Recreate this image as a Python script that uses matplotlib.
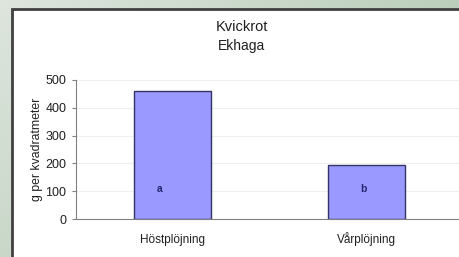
import numpy as np
import matplotlib.pyplot as plt
from matplotlib.patches import Rectangle

plt.rcParams['font.family'] = ['Liberation Sans', 'DejaVu Sans']

# data
categories = ['Höstplöjning', 'Vårplöjning']
values = [460, 195]
letters = ['a', 'b']
letter_y = 108
letter_dx = [-0.07, -0.015]
yticks = [0, 100, 200, 300, 400, 500]

W, H = 460, 257
fig = plt.figure(figsize=(W / 100, H / 100), dpi=100)

# greenish gradient background
bg = fig.add_axes([0, 0, 1, 1])
xx, yy = np.meshgrid(np.linspace(0, 1, 200), np.linspace(0, 1, 120))
c0 = np.array([0.87, 0.90, 0.87])
c1 = np.array([0.69, 0.78, 0.69])
t = np.clip(0.75 * xx + 0.45 * yy, 0, 1)[..., None]
bg.imshow(c0 * (1 - t) + c1 * t, aspect='auto', extent=[0, 1, 0, 1], origin='upper')
# white panel with dark border
bg.add_patch(Rectangle((12 / W, -0.05), 1.1, 1 - 9 / H + 0.05,
                       facecolor='white', edgecolor='#404040', linewidth=2))
bg.set_xlim(0, 1)
bg.set_ylim(0, 1)
bg.axis('off')

ax = fig.add_axes([76 / W, (H - 219) / H, 387 / W, 139 / H])
x = np.arange(len(categories))
ax.bar(x, values, width=0.4, color='#9999ff', edgecolor='#333366', linewidth=1, zorder=3)
for xi, dx, lab in zip(x, letter_dx, letters):
    ax.text(xi + dx, letter_y, lab, color='#262673', fontsize=7.5, fontweight='bold',
            ha='center', va='center', zorder=4)

ax.set_xlim(-0.5, 1.5)
ax.set_ylim(0, 500)
ax.set_yticks(yticks)
ax.set_xticks(x)
ax.set_xticklabels(categories, fontsize=8.5, color='#202020')
for lbl in ax.get_xticklabels():
    lbl.set_verticalalignment('baseline')
ax.tick_params(axis='y', labelsize=9, length=3, width=0.8, pad=4,
               color='#808080', labelcolor='#202020')
ax.tick_params(axis='x', length=0, pad=17)
ax.grid(axis='y', color='#f0f0f0', linewidth=0.8, zorder=0)
for s in ['top', 'right']:
    ax.spines[s].set_visible(False)
ax.spines['left'].set_color('#808080')
ax.spines['bottom'].set_color('#808080')
ax.set_facecolor('none')
ax.set_ylabel('g per kvadratmeter', fontsize=8.8, color='#202020', labelpad=1.5)

fig.text(242 / W, 1 - 27 / H, 'Kvickrot', ha='center', va='center', fontsize=10.5, color='#202020')
fig.text(242 / W, 1 - 46 / H, 'Ekhaga', ha='center', va='center', fontsize=10, color='#202020')

fig.savefig('out.png', dpi=100)
